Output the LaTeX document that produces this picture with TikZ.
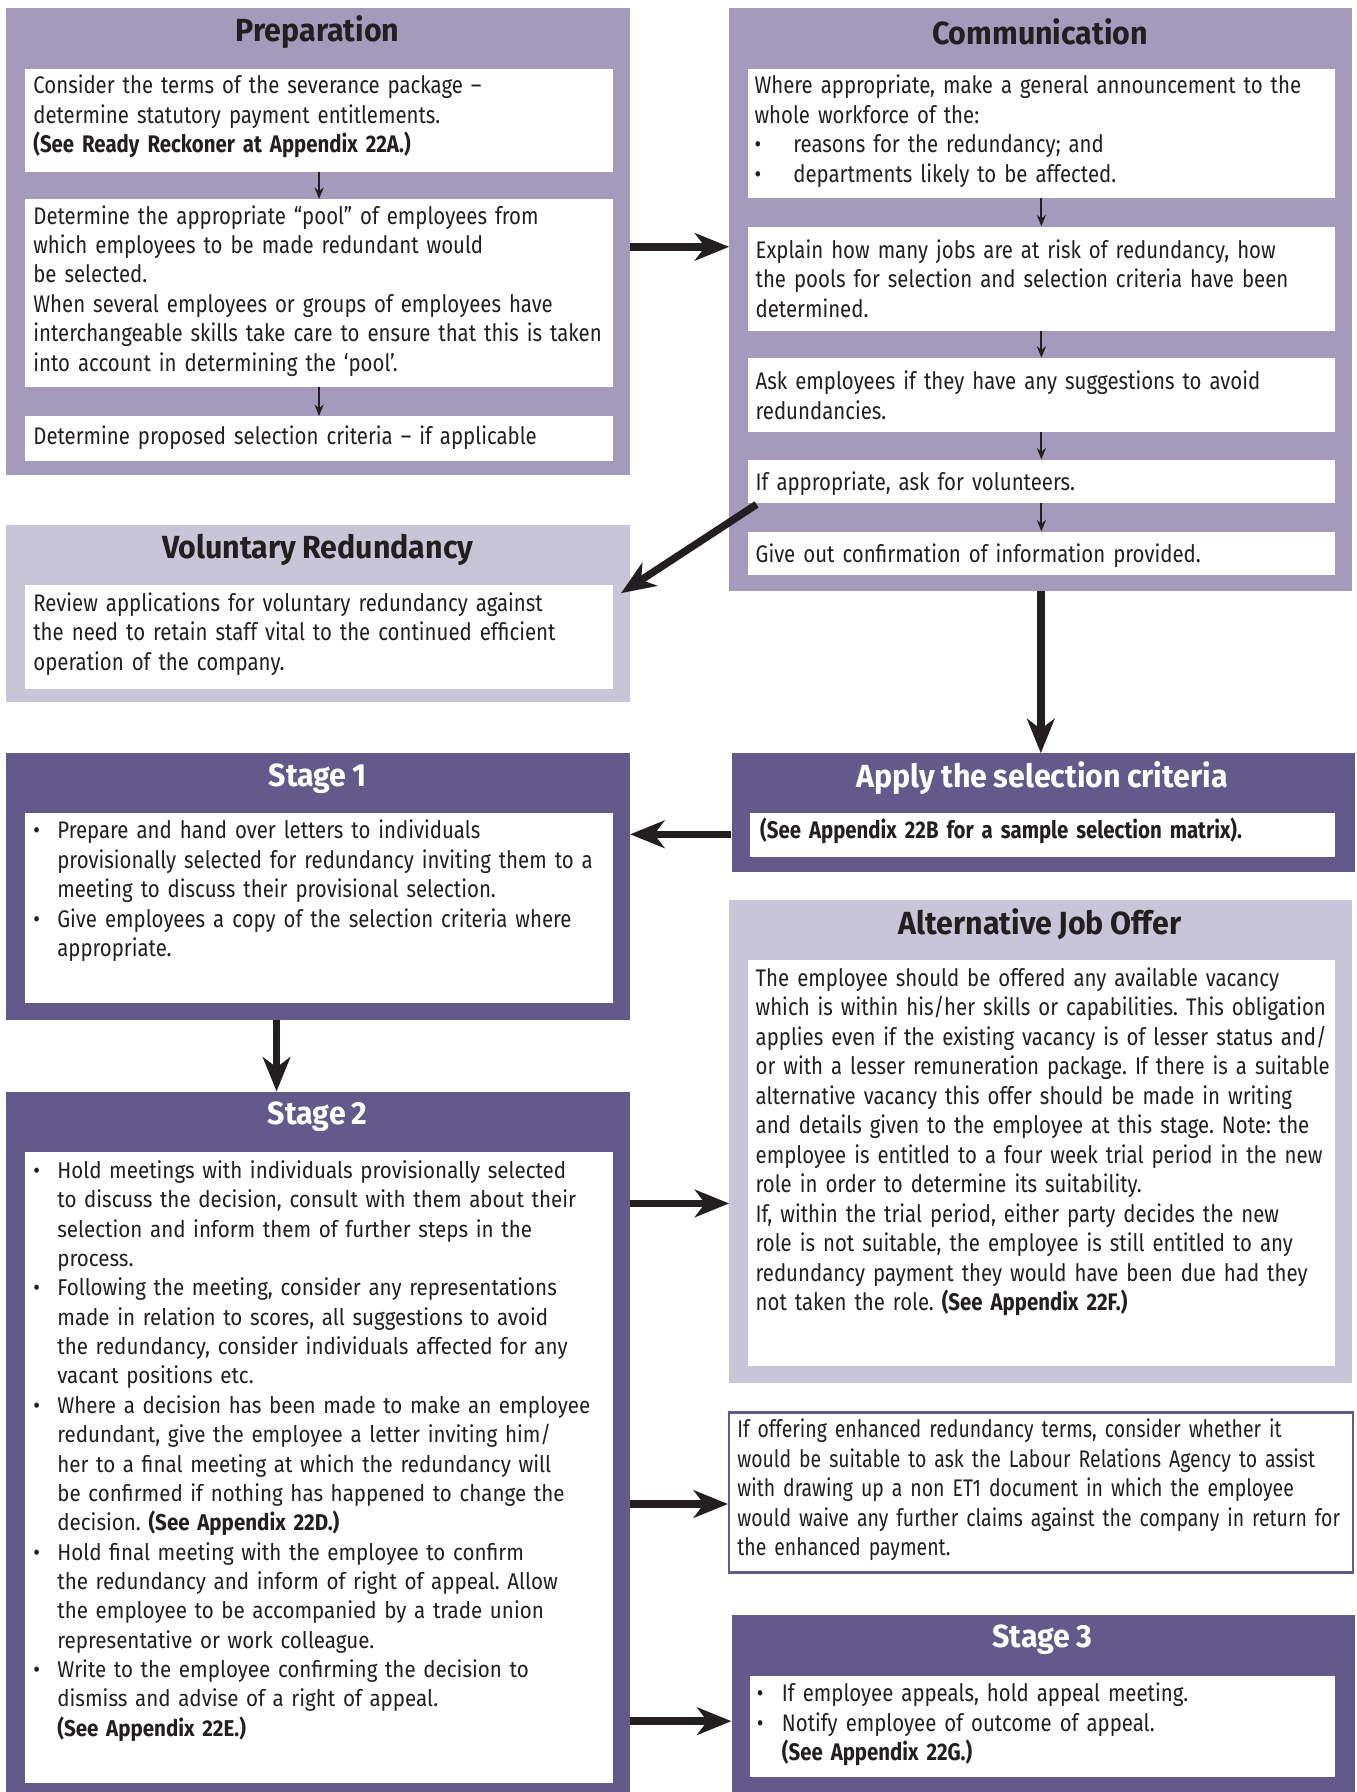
\documentclass[tikz,border=0pt]{standalone}
\usepackage{fontspec}
\setmainfont{Fira Sans}
\newfontfamily\cond[FakeStretch=0.85,WordSpace=0.6]{Fira Sans}
\newfontfamily\condn[FakeStretch=0.81,WordSpace=0.6]{Fira Sans}
\newfontfamily\wide[FakeStretch=0.90]{Fira Sans}
\newfontfamily\tfont[FakeStretch=0.95,WordSpace=0.85]{Fira Sans}
\usetikzlibrary{arrows.meta,calc}
\definecolor{midlav}{HTML}{A49ABC}
\definecolor{lightlav}{HTML}{C9C5D8}
\definecolor{darkpur}{HTML}{63598A}
\definecolor{ink}{HTML}{231F20}
\frenchspacing
\newcommand\bodyfont{\cond\frenchspacing\fontsize{21}{25.8}\selectfont}
\newcommand\narrowfont{\condn\frenchspacing\fontsize{21}{25.8}\selectfont}
\newcommand\widefont{\wide\frenchspacing\fontsize{20}{25.7}\selectfont}
\newcommand\bl[1]{\makebox[#1][l]{•}}
\begin{document}
\begin{tikzpicture}[x=1pt,y=-1pt,
  outer/.style={anchor=north west,inner sep=0,draw=none},
  wbox/.style={anchor=north west,inner sep=0,fill=white,draw=none},
  ttl/.style={font=\tfont\bfseries\fontsize{28}{32}\selectfont,text=ink,inner sep=0},
  wttl/.style={ttl,text=white},
  txt/.style={anchor=base west,inner sep=0,align=left,text width=620pt,font=\bodyfont,text=ink},
  wtxt/.style={txt,font=\widefont},
  ntxt/.style={txt,font=\narrowfont},
  karr/.style={line width=6.5pt,draw=ink,-{Stealth[length=30pt,width=24pt,inset=9pt]}},
  tarr/.style={line width=1.6pt,draw=ink,-{Stealth[length=10pt,width=8pt]}}]
\useasboundingbox (0,0) rectangle (1187,1568);
\fill[white] (0,0) rectangle (1187,1568);

% ---------- Preparation ----------
\node[outer,fill=midlav,minimum width=546pt,minimum height=408pt] (prep) at (5,7) {};
\node[ttl] (prept) at (278,28) {Preparation};
\node[wbox,minimum width=514pt,minimum height=90pt] (p1) at (22,60) {};
\node[txt] (p1t) at (29,82) {Consider the terms of the severance package –\\determine statutory payment entitlements.\\\textbf{(See Ready Reckoner at Appendix 22A.)}};
\node[wbox,minimum width=514pt,minimum height=164pt] (p2) at (22,174) {};
\node[txt] (p2t) at (29,196) {Determine the appropriate “pool” of employees from\\which employees to be made redundant would\\be selected.\\When several employees or groups of employees have\\interchangeable skills take care to ensure that this is taken\\into account in determining the ‘pool’.};
\node[wbox,minimum width=514pt,minimum height=39pt] (p3) at (22,364) {};
\node[txt] (p3t) at (29,389) {Determine proposed selection criteria – if applicable};
\draw[tarr] (p1.south) -- (p2.north);
\draw[tarr] (p2.south) -- (p3.north);

% ---------- Communication ----------
\node[outer,fill=midlav,minimum width=545pt,minimum height=510pt] (comm) at (638,7) {};
\node[ttl] (commt) at (910,28) {Communication};
\node[wbox,minimum width=514pt,minimum height=113pt] (c1) at (654,60) {};
\node[txt] (c1t) at (660,82) {Where appropriate, make a general announcement to the\\whole workforce of the:\\\bl{34pt}reasons for the redundancy; and\\\bl{34pt}departments likely to be affected.};
\node[wbox,minimum width=514pt,minimum height=91pt] (c2) at (654,198) {};
\node[txt] (c2t) at (661,226) {Explain how many jobs are at risk of redundancy, how\\the pools for selection and selection criteria have been\\determined.};
\node[wbox,minimum width=514pt,minimum height=65pt] (c3) at (654,313) {};
\node[txt] (c3t) at (661,341) {Ask employees if they have any suggestions to avoid\\redundancies.};
\node[wbox,minimum width=514pt,minimum height=38pt] (c4) at (654,402) {};
\node[txt] (c4t) at (661,429) {If appropriate, ask for volunteers.};
\node[wbox,minimum width=514pt,minimum height=38pt] (c5) at (654,465) {};
\node[txt] (c5t) at (661,492) {Give out confirmation of information provided.};
\draw[tarr] (c1.south) -- (c2.north);
\draw[tarr] (c2.south) -- (c3.north);
\draw[tarr] (c3.south) -- (c4.north);
\draw[tarr] (c4.south) -- (c5.north);

% ---------- Voluntary Redundancy ----------
\node[outer,fill=lightlav,minimum width=546pt,minimum height=155pt] (vol) at (5,459) {};
\node[ttl] (volt) at (278,481) {Voluntary Redundancy};
\node[wbox,minimum width=514pt,minimum height=91pt] (vw) at (22,512) {};
\node[txt] (vwt) at (29,535) {Review applications for voluntary redundancy against\\the need to retain staff vital to the continued efficient\\operation of the company.};

% ---------- Stage 1 ----------
\node[outer,fill=darkpur,minimum width=546pt,minimum height=233pt] (s1) at (5,659) {};
\node[wttl] (s1t) at (278,681) {Stage 1};
\node[wbox,minimum width=514pt,minimum height=166pt] (s1w) at (22,711) {};
\node[txt] (s1wt) at (29,734) {\bl{21pt}Prepare and hand over letters to individuals\\\hspace*{21pt}provisionally selected for redundancy inviting them to a\\\hspace*{21pt}meeting to discuss their provisional selection.\\\bl{21pt}Give employees a copy of the selection criteria where\\\hspace*{21pt}appropriate.};

% ---------- Apply the selection criteria ----------
\node[outer,fill=darkpur,minimum width=545pt,minimum height=104pt] (apply) at (640,659) {};
\node[wttl] (applyt) at (912,681) {Apply the selection criteria};
\node[wbox,minimum width=512pt,minimum height=39pt] (aw) at (656,711) {};
\node[txt] (awt) at (665,734) {\textbf{(See Appendix 22B for a sample selection matrix).}};

% ---------- Stage 2 ----------
\node[outer,fill=darkpur,minimum width=546pt,minimum height=613pt] (s2) at (5,955) {};
\node[wttl] (s2t) at (278,977) {Stage 2};
\node[wbox,minimum width=514pt,minimum height=552pt] (s2w) at (22,1008) {};
\node[wtxt] (s2wt) at (29,1031) {\bl{21pt}Hold meetings with individuals provisionally selected\\\hspace*{21pt}to discuss the decision, consult with them about their\\\hspace*{21pt}selection and inform them of further steps in the\\\hspace*{21pt}process.\\\bl{21pt}Following the meeting, consider any representations\\\hspace*{21pt}made in relation to scores, all suggestions to avoid\\\hspace*{21pt}the redundancy, consider individuals affected for any\\\hspace*{21pt}vacant positions etc.\\\bl{21pt}Where a decision has been made to make an employee\\\hspace*{21pt}redundant, give the employee a letter inviting him/\\\hspace*{21pt}her to a final meeting at which the redundancy will\\\hspace*{21pt}be confirmed if nothing has happened to change the\\\hspace*{21pt}decision. \textbf{(See Appendix 22D.)}\\\bl{21pt}Hold final meeting with the employee to confirm\\\hspace*{21pt}the redundancy and inform of right of appeal. Allow\\\hspace*{21pt}the employee to be accompanied by a trade union\\\hspace*{21pt}representative or work colleague.\\\bl{21pt}Write to the employee confirming the decision to\\\hspace*{21pt}dismiss and advise of a right of appeal.\\\hspace*{21pt}\textbf{(See Appendix 22E.)}};

% ---------- Alternative Job Offer ----------
\node[outer,fill=lightlav,minimum width=545pt,minimum height=423pt] (alt) at (638,787) {};
\node[ttl] (altt) at (910,809) {Alternative Job Offer};
\node[wbox,minimum width=514pt,minimum height=355pt] (altw) at (654,840) {};
\node[txt] (altwt) at (661,863) {The employee should be offered any available vacancy\\which is within his/her skills or capabilities. This obligation\\applies even if the existing vacancy is of lesser status and/\\or with a lesser remuneration package. If there is a suitable\\alternative vacancy this offer should be made in writing\\and details given to the employee at this stage. Note: the\\employee is entitled to a four week trial period in the new\\role in order to determine its suitability.\\If, within the trial period, either party decides the new\\role is not suitable, the employee is still entitled to any\\redundancy payment they would have been due had they\\not taken the role. \textbf{(See Appendix 22F.)}};

% ---------- Enhanced terms ----------
\node[anchor=north west,inner sep=0,fill=white,draw=darkpur,line width=2pt,minimum width=546pt,minimum height=140pt] (enh) at (637,1235) {};
\node[ntxt] (enht) at (645,1258) {If offering enhanced redundancy terms, consider whether it\\would be suitable to ask the Labour Relations Agency to assist\\with drawing up a non ET1 document in which the employee\\would waive any further claims against the company in return for\\the enhanced payment.};

% ---------- Stage 3 ----------
\node[outer,fill=darkpur,minimum width=545pt,minimum height=155pt] (s3) at (640,1413) {};
\node[wttl] (s3t) at (912,1435) {Stage 3};
\node[wbox,minimum width=512pt,minimum height=89pt] (s3w) at (656,1466) {};
\node[txt] (s3wt) at (662,1489) {\bl{22pt}If employee appeals, hold appeal meeting.\\\bl{22pt}Notify employee of outcome of appeal.\\\hspace*{22pt}\textbf{(See Appendix 22G.)}};

% ---------- thick connectors ----------
\coordinate (ya) at (0,216);
\coordinate (yb) at (0,730);
\coordinate (xc) at (242,0);
\coordinate (yd) at (0,1053);
\coordinate (ye) at (0,1316);
\coordinate (yf) at (0,1506);
\draw[karr] (prep.east |- ya) -- (comm.west |- ya);
\draw[karr] ($(c4.south west)+(8,1)$) -- ($(vw.north east)+(7,7)$);
\draw[karr] (comm.south) -- (comm.south |- apply.north);
\draw[karr] (apply.west |- yb) -- (s1.east |- yb);
\draw[karr] (s1.south -| xc) -- (s2.north -| xc);
\draw[karr] (s2.east |- yd) -- (alt.west |- yd);
\draw[karr] (s2.east |- ye) -- (enh.west |- ye);
\draw[karr] (s2.east |- yf) -- (s3.west |- yf);
\end{tikzpicture}
\end{document}
